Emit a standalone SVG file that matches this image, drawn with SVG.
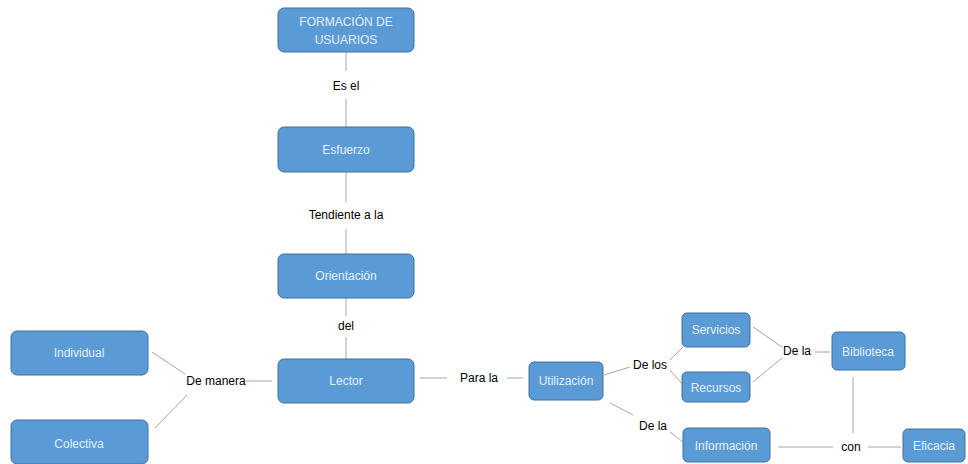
<svg xmlns="http://www.w3.org/2000/svg" width="968" height="464" viewBox="0 0 968 464">
<style>
.n rect{fill:#5b9bd5;stroke:#41719c;stroke-width:1}
.n text{fill:#e6eef8;font-family:"Liberation Sans",Arial,sans-serif;font-size:12px;text-anchor:middle;dominant-baseline:central}
.c line{stroke:#a6a6a6;stroke-width:1}
.l{fill:#000;font-family:"Liberation Sans",Arial,sans-serif;font-size:12px;text-anchor:middle;dominant-baseline:central}
</style>
<rect width="968" height="464" fill="#fff"/>
<g class="c">
<line x1="346" y1="52" x2="346" y2="71"/>
<line x1="346" y1="99" x2="346" y2="127"/>
<line x1="346" y1="172" x2="346" y2="202"/>
<line x1="346" y1="229" x2="346" y2="254"/>
<line x1="346" y1="298" x2="346" y2="316"/>
<line x1="346" y1="337" x2="346" y2="359"/>
<line x1="152" y1="352" x2="185" y2="374"/>
<line x1="155" y1="428" x2="187" y2="395"/>
<line x1="246" y1="381" x2="272" y2="381"/>
<line x1="420" y1="378" x2="447" y2="378"/>
<line x1="507" y1="378" x2="523" y2="378"/>
<line x1="604" y1="375" x2="630" y2="367"/>
<line x1="670" y1="360" x2="683" y2="347"/>
<line x1="670" y1="370" x2="683" y2="385"/>
<line x1="610" y1="403" x2="633" y2="415"/>
<line x1="670" y1="432" x2="683" y2="442"/>
<line x1="753" y1="327" x2="782" y2="347"/>
<line x1="753" y1="382" x2="782" y2="358"/>
<line x1="815" y1="352" x2="830" y2="352"/>
<line x1="853" y1="377" x2="853" y2="433"/>
<line x1="778" y1="447" x2="833" y2="447"/>
<line x1="868" y1="447" x2="901" y2="447"/>
</g>
<g id="formacion" class="n"><rect x="278" y="8" width="136" height="44" rx="6"/><text x="346" y="22">FORMACIÓN DE</text><text x="346" y="40">USUARIOS</text></g>
<g id="esfuerzo" class="n"><rect x="278" y="127" width="136" height="45" rx="6"/><text x="346" y="150">Esfuerzo</text></g>
<g id="orientacion" class="n"><rect x="278" y="254" width="136" height="44" rx="6"/><text x="346" y="276">Orientación</text></g>
<g id="lector" class="n"><rect x="278" y="359" width="136" height="44" rx="6"/><text x="346" y="381">Lector</text></g>
<g id="individual" class="n"><rect x="11" y="331" width="137" height="44" rx="6"/><text x="79" y="353">Individual</text></g>
<g id="colectiva" class="n"><rect x="11" y="420" width="137" height="44" rx="6"/><text x="79" y="444">Colectiva</text></g>
<g id="utilizacion" class="n"><rect x="529" y="362" width="74" height="38" rx="5"/><text x="566" y="381">Utilización</text></g>
<g id="servicios" class="n"><rect x="682" y="313" width="68" height="34" rx="5"/><text x="716" y="330">Servicios</text></g>
<g id="recursos" class="n"><rect x="682" y="372" width="68" height="30" rx="5"/><text x="716" y="388">Recursos</text></g>
<g id="informacion" class="n"><rect x="683" y="428" width="87" height="34" rx="5"/><text x="726" y="446">Información</text></g>
<g id="biblioteca" class="n"><rect x="832" y="332" width="73" height="38" rx="5"/><text x="868" y="352">Biblioteca</text></g>
<g id="eficacia" class="n"><rect x="903" y="429" width="62" height="33" rx="5"/><text x="934" y="446">Eficacia</text></g>
<text class="l" x="346" y="86">Es el</text>
<text class="l" x="346" y="215">Tendiente a la</text>
<text class="l" x="346" y="326">del</text>
<text class="l" x="216" y="381">De manera</text>
<text class="l" x="479" y="378">Para la</text>
<text class="l" x="650" y="365">De los</text>
<text class="l" x="653" y="426">De la</text>
<text class="l" x="797" y="351">De la</text>
<text class="l" x="851" y="447">con</text>
</svg>
